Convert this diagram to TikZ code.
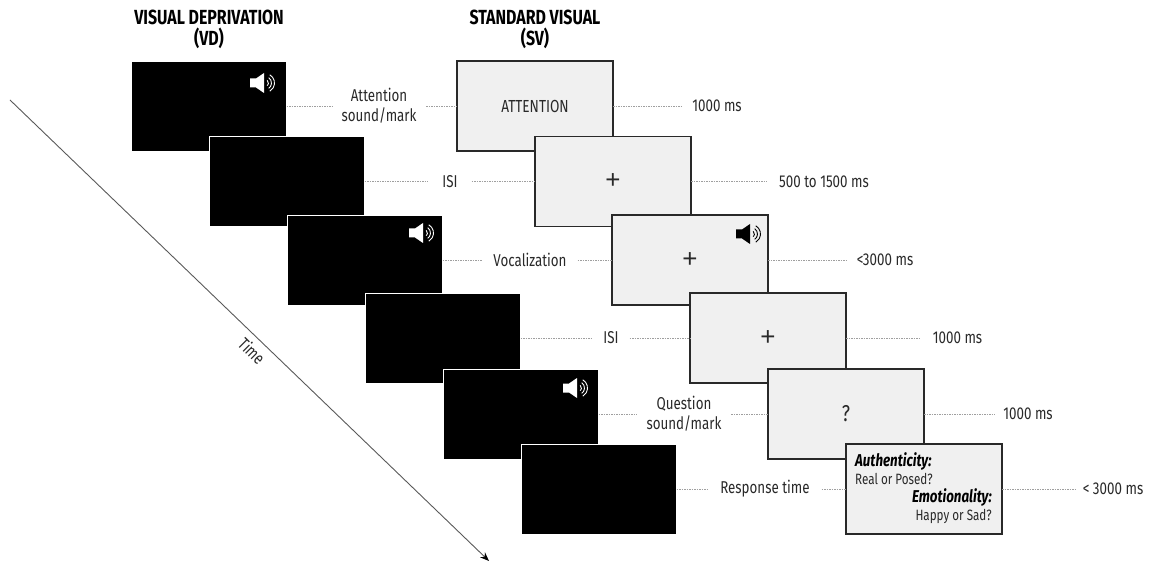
\documentclass[tikz,border=0pt]{standalone}
\usepackage{fontspec}
\setmainfont[FakeStretch=0.78]{Fira Sans}
\newfontfamily\plusfont{Liberation Sans}
\usetikzlibrary{arrows.meta}
\definecolor{svfill}{gray}{0.94}
\definecolor{inkc}{gray}{0.16}
\tikzset{
  vdbox/.style={fill=black,draw=white,line width=0.5bp,minimum width=155bp,minimum height=90bp,inner sep=0pt,outer sep=0pt},
  svbox/.style={fill=svfill,draw=inkc,line width=1.3bp,minimum width=156bp,minimum height=90bp,inner sep=0pt,outer sep=0pt,text=inkc,font=\fontsize{17.5}{18}\selectfont},
  plusmark/.style={font=\plusfont\fontsize{26}{26}\selectfont},
  lab/.style={text=inkc,font=\fontsize{17.2}{20}\selectfont,align=center,inner ysep=0pt,inner xsep=11bp,outer sep=0pt},
  head/.style={text=black,font=\fontsize{20.5}{21}\selectfont\bfseries,align=center,inner sep=0pt},
  inner/.style={text=inkc,font=\fontsize{15}{15}\selectfont,inner sep=0pt},
  innerb/.style={text=black,font=\fontsize{17.2}{15}\selectfont\bfseries\itshape,inner sep=0pt},
  dots/.style={draw=gray!75,line width=0.8bp,dash pattern=on 1.5bp off 1bp},
  pics/speaker/.style={code={
    \fill[#1] (-13,-4.5) -- (-7,-4.5) -- (1,-10) -- (1,10) -- (-7,4.5) -- (-13,4.5) -- cycle;
    \draw[#1,line width=0.9bp] (2,0) ++(-50:3.5) arc[start angle=-50,end angle=50,radius=3.5];
    \draw[#1,line width=0.9bp] (2,0) ++(-55:6.5) arc[start angle=-55,end angle=55,radius=6.5];
    \draw[#1,line width=0.9bp] (2,0) ++(-60:9.5) arc[start angle=-60,end angle=60,radius=9.5];
  }}
}
\begin{document}
\begin{tikzpicture}[x=1bp,y=-1bp]
\useasboundingbox (0,0) rectangle (1159,563);
% headings
\node[head] (h1) at (209,29.5) {VISUAL DEPRIVATION\\(VD)};
\node[head] (h2) at (535,29.5) {STANDARD VISUAL\\(SV)};
% time axis
\coordinate (t0) at (10,100);
\coordinate (t1) at (489,561);
\draw[draw=gray!70!black,line width=0.9bp,-{Stealth[length=9bp,width=7bp,color=black]}] (t0) -- (t1);
\node[lab,rotate=-45] (time) at (252,351) {Time};
% labels
\node[lab,inner xsep=10bp] (l1) at (379,106) {Attention\\sound/mark};
\node[lab,inner xsep=14bp] (l2) at (450,181.5) {ISI};
\node[lab] (l3) at (530,260) {Vocalization};
\node[lab] (l4) at (611,338) {ISI};
\node[lab,inner xsep=10bp] (l5) at (684,414) {Question\\sound/mark};
\node[lab,inner xsep=12bp] (l6) at (765,489) {Response time};
\node[lab,inner xsep=10bp] (r1) at (717,106) {1000 ms};
\node[lab,inner xsep=13bp] (r2) at (824,181.5) {500 to 1500 ms};
\node[lab] (r3) at (885,260) {<3000 ms};
\node[lab,inner xsep=12bp] (r4) at (957.5,338) {1000 ms};
\node[lab,inner xsep=9bp] (r5) at (1028,414) {1000 ms};
\node[lab,inner xsep=8bp] (r6) at (1113,489) {< 3000 ms};
% black screens
\node[vdbox] (v1) at (209,106) {};
\node[vdbox] (v2) at (287,181.5) {};
\node[vdbox] (v3) at (365,260) {};
\node[vdbox] (v4) at (443,338) {};
\node[vdbox] (v5) at (521,414) {};
\node[vdbox] (v6) at (599,489) {};
\pic at (263,83) {speaker=white};
\pic at (422,233) {speaker=white};
\pic at (576,388) {speaker=white};
% grey screens
\node[svbox] (s1) at (535,106) {ATTENTION};
\node[svbox,plusmark] (s2) at (613,181.5) {+};
\node[svbox,plusmark] (s3) at (690,260) {+};
\node[svbox,plusmark] (s4) at (768,338) {+};
\node[svbox,font=\fontsize{23}{23}\selectfont] (s5) at (846,414) {?};
\node[svbox] (s6) at (924,489) {};
\pic at (749,234) {speaker=black};
\node[innerb,anchor=west] (a1) at (855,461) {Authenticity:};
\node[inner,anchor=west] (a2) at (855,479) {Real or Posed?};
\node[innerb,anchor=east] (a3) at (992,497) {Emotionality:};
\node[inner,anchor=east] (a4) at (992,516) {Happy or Sad?};
% connectors
\draw[dots] (v1.east) -- (l1.west);
\draw[dots] (l1.east) -- (s1.west);
\draw[dots] (s1.east) -- (r1.west);
\draw[dots] (v2.east) -- (l2.west);
\draw[dots] (l2.east) -- (s2.west);
\draw[dots] (s2.east) -- (r2.west);
\draw[dots] (v3.east) -- (l3.west);
\draw[dots] (l3.east) -- (s3.west);
\draw[dots] (s3.east) -- (r3.west);
\draw[dots] (v4.east) -- (l4.west);
\draw[dots] (l4.east) -- (s4.west);
\draw[dots] (s4.east) -- (r4.west);
\draw[dots] (v5.east) -- (l5.west);
\draw[dots] (l5.east) -- (s5.west);
\draw[dots] (s5.east) -- (r5.west);
\draw[dots] (v6.east) -- (l6.west);
\draw[dots] (l6.east) -- (s6.west);
\draw[dots] (s6.east) -- (r6.west);
\end{tikzpicture}
\end{document}
